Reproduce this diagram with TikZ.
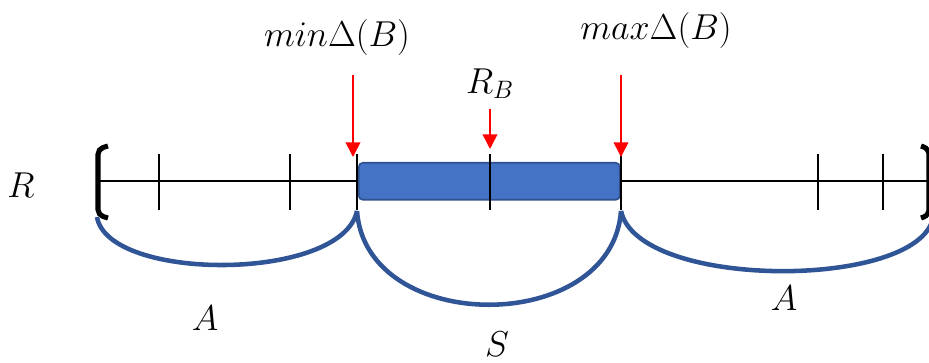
\RequirePackage{fix-cm}
\documentclass[tikz,border=0pt]{standalone}
\usetikzlibrary{arrows.meta}
\definecolor{boxfill}{HTML}{4472C4}
\definecolor{boxedge}{HTML}{2F528F}
\definecolor{arcblue}{HTML}{2F5597}
\begin{document}
\begin{tikzpicture}[x=0.75pt,y=-0.75pt,
  lbl/.style={inner sep=0pt,font=\fontsize{27}{32}\selectfont},
  tick/.style={black,line width=1.6pt},
  axis/.style={black,line width=1.4pt},
  brk/.style={black,line width=3.8pt,rounded corners=4pt},
  redarrow/.style={red,line width=1.2pt,-{Triangle[width=11pt,length=11pt]}},
  arcline/.style={arcblue,line width=3.4pt},
  blockbox/.style={draw=boxedge,fill=boxfill,line width=1.2pt,rounded corners=3pt}]
\useasboundingbox (0,0) rectangle (929,363);
% main line
\coordinate (L0) at (100,181);
\coordinate (L1) at (929,181);
\draw[axis] (L0) -- (L1);
% brackets
\draw[brk] (108,146) -- (98,149) -- (98,215) -- (108,218);
\draw[brk] (921,146) -- (929,149) -- (929,215) -- (921,218);
% blue block
\node[blockbox,minimum width=261*0.75pt,minimum height=37*0.75pt,anchor=north west] (blk) at (358,162) {};
% ticks
\foreach \n/\x in {t1/159,t2/290,t3/357,t4/490,t5/621,t6/818,t7/883}{
  \coordinate (\n a) at (\x,154);
  \coordinate (\n b) at (\x,210);
  \draw[tick] (\n a) -- (\n b);
}
% arc end points
\coordinate (aL) at (97,217);
\coordinate (aM1) at (357,211);
\coordinate (aM2) at (621,211);
\coordinate (aR) at (933,218);
\draw[arcline] (aL) .. controls (108,282) and (342,282) .. (aM1);
\draw[arcline] (aM1) .. controls (366,336) and (612,336) .. (aM2);
\draw[arcline] (aM2) .. controls (638,290) and (918,290) .. (aR);
% labels
\node[lbl] (min) at (337,38) {$min\Delta(B)$};
\node[lbl] (max) at (656,31) {$max\Delta(B)$};
\node[lbl] (rb) at (490,84) {$R_B$};
\node[lbl] (r) at (21,185) {$R$};
\node[lbl] (a1) at (205,318) {$A$};
\node[lbl] (s) at (497,344) {$S$};
\node[lbl] (a2) at (784,298) {$A$};
% red arrows
\coordinate (m0) at (353,75);
\coordinate (m1) at (353,157);
\coordinate (x0) at (621,75);
\coordinate (x1) at (621,157);
\coordinate (r0) at (490,109);
\coordinate (r1) at (490,149);
\draw[redarrow] (m0) -- (m1);
\draw[redarrow] (x0) -- (x1);
\draw[redarrow] (r0) -- (r1);
\end{tikzpicture}
\end{document}
